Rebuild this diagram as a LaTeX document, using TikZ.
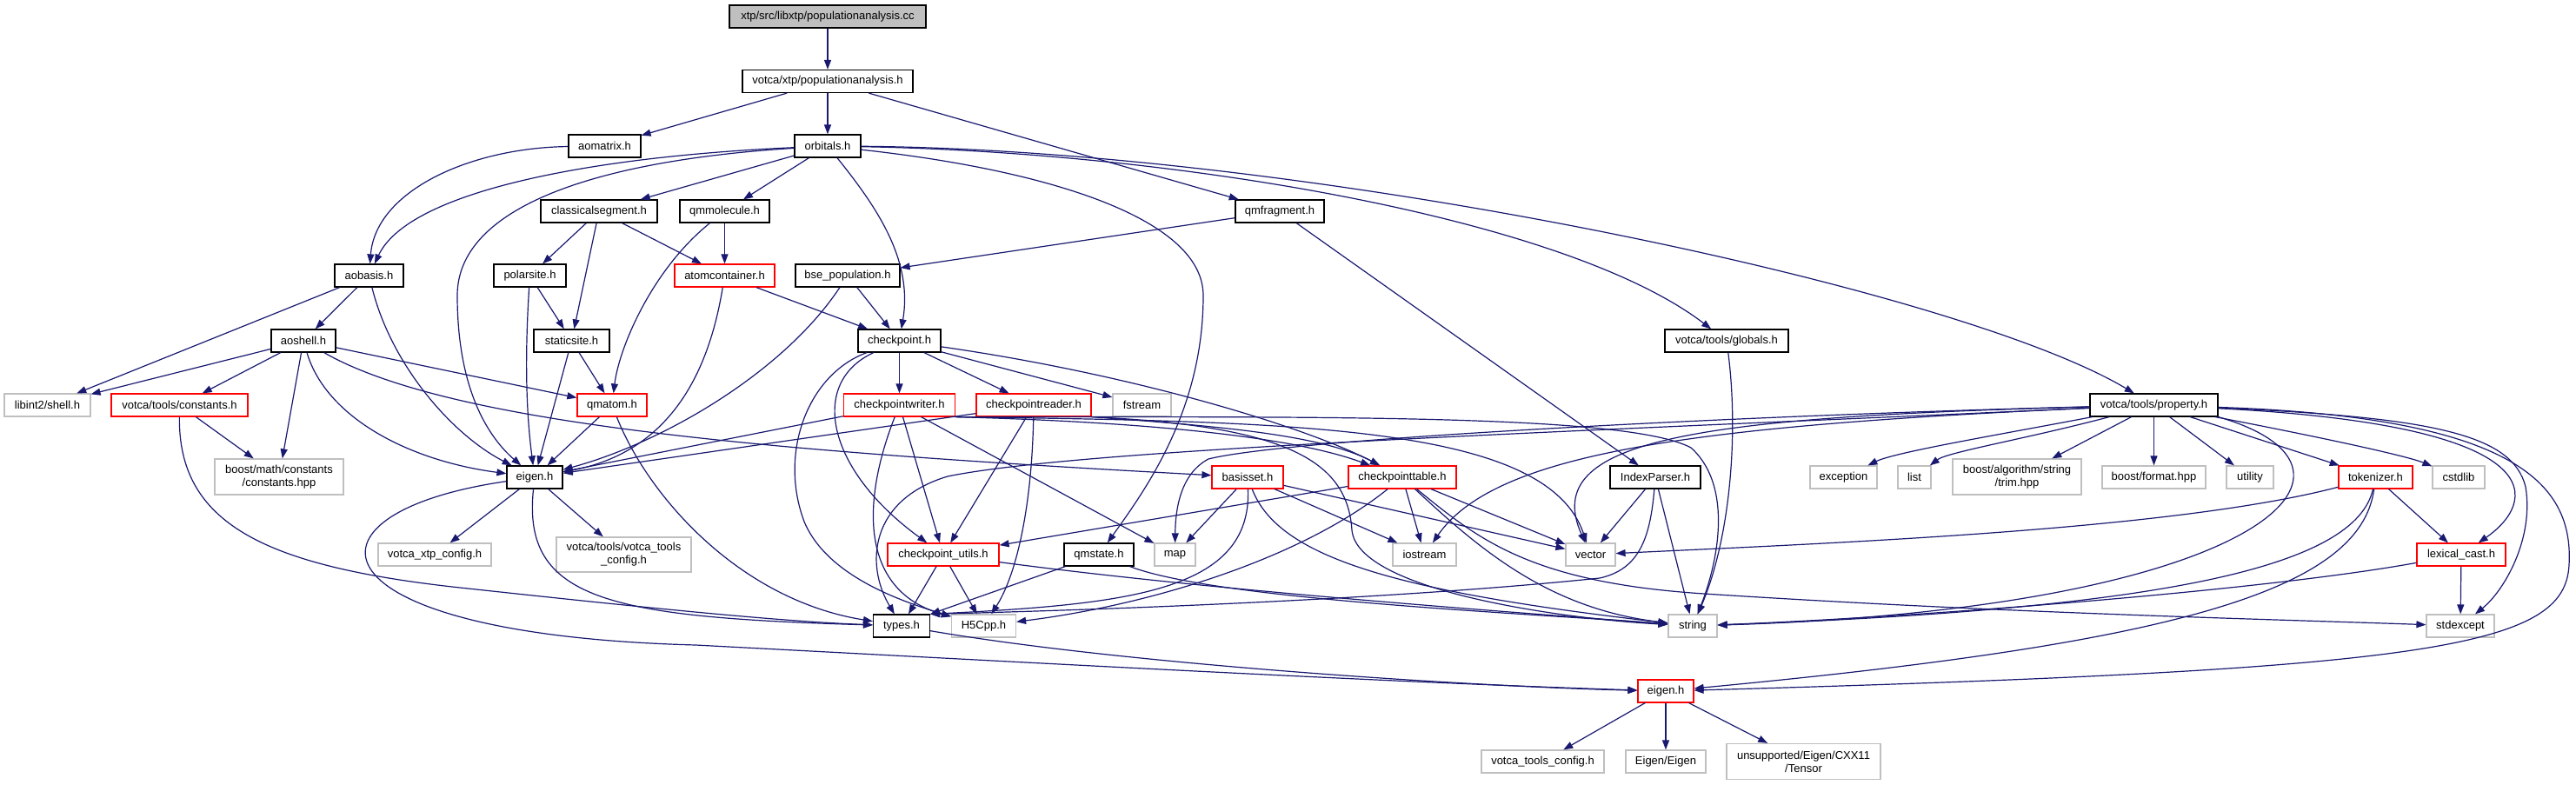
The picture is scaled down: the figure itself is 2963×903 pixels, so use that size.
\documentclass[tikz,border=0pt]{standalone}
\usepackage{fontspec}
\setmainfont{Liberation Sans}
\usetikzlibrary{arrows.meta}
\definecolor{edgec}{HTML}{191970}
\definecolor{grey75}{HTML}{BFBFBF}
\newcommand\fs{\fontsize{6.5}{7.6}\selectfont}
\begin{document}
\begin{tikzpicture}[x=0.5pt,y=-0.5pt,
  nb/.style={draw=black, line width=0.6pt, fill=white, text=black, inner sep=0pt, align=center, font=\fs, minimum height=13pt},
  nr/.style={nb, draw=red},
  ng/.style={nb, draw=grey75},
  tall/.style={minimum height=20.5pt},
  bw/.style={minimum width=#1*0.5pt},
  ed/.style={draw=edgec, line width=0.6pt, -{Triangle[length=5.5pt,width=4pt]}}]
\fill[white] (0,0) rectangle (2963,903);
\useasboundingbox (0,0) rectangle (2963,903);
% ---------- nodes ----------
\node[nb,bw=226,fill=grey75] (root) at (952,19) {xtp/src/libxtp/populationanalysis.cc};
\node[nb,bw=196] (pop) at (952,93.5) {votca/xtp/populationanalysis.h};
\node[nb,bw=83] (aomatrix) at (695.5,168) {aomatrix.h};
\node[nb,bw=76] (orbitals) at (952,168) {orbitals.h};
\node[nb,bw=134] (classseg) at (689,243) {classicalsegment.h};
\node[nb,bw=103] (qmmol) at (833.5,243) {qmmolecule.h};
\node[nb,bw=102] (qmfrag) at (1472,243) {qmfragment.h};
\node[nb,bw=79] (aobasis) at (424.5,317) {aobasis.h};
\node[nb,bw=83] (polarsite) at (609.5,317) {polarsite.h};
\node[nr,bw=115] (atomcont) at (833.5,317) {atomcontainer.h};
\node[nb,bw=120] (bse) at (975,317) {bse\_population.h};
\node[nb,bw=74] (aoshell) at (349,392) {aoshell.h};
\node[nb,bw=87] (staticsite) at (657.5,392) {staticsite.h};
\node[nb,bw=95] (checkpoint) at (1034.5,392) {checkpoint.h};
\node[nb,bw=142] (globals) at (1986,392) {votca/tools/globals.h};
\node[ng,bw=99] (libint) at (54.5,466) {libint2/shell.h};
\node[nr,bw=157] (constants) at (206.5,466) {votca/tools/constants.h};
\node[nr,bw=80] (qmatom) at (704,466) {qmatom.h};
\node[nr,bw=128] (cpwriter) at (1034.5,466) {checkpointwriter.h};
\node[nr,bw=132] (cpreader) at (1189,466) {checkpointreader.h};
\node[ng,bw=67] (fstream) at (1313.5,466) {fstream};
\node[nb,bw=147] (property) at (2477.5,466) {votca/tools/property.h};
\node[ng,bw=148,tall] (boostmath) at (321,548.5) {boost/math/constants\\/constants.hpp};
\node[nb,bw=64] (eigenx) at (615,549) {eigen.h};
\node[nr,bw=82] (basisset) at (1435,549) {basisset.h};
\node[nr,bw=124] (cptable) at (1613,549) {checkpointtable.h};
\node[nb,bw=104] (indexparser) at (1904,549) {IndexParser.h};
\node[ng,bw=77] (exception) at (2120.5,549) {exception};
\node[ng,bw=38] (list) at (2202,549) {list};
\node[ng,bw=148,tall] (boosttrim) at (2320,548.5) {boost/algorithm/string\\/trim.hpp};
\node[ng,bw=119] (boostformat) at (2477.5,549) {boost/format.hpp};
\node[ng,bw=54] (utility) at (2588,549) {utility};
\node[nr,bw=85] (tokenizer) at (2732.5,549) {tokenizer.h};
\node[ng,bw=60] (cstdlib) at (2828,549) {cstdlib};
\node[ng,bw=130] (xtpconfig) at (500,638) {votca\_xtp\_config.h};
\node[ng,bw=155,minimum height=20pt] (toolsconfig) at (717.5,638) {votca/tools/votca\_tools\\\_config.h};
\node[nr,bw=128] (cputils) at (1085,638) {checkpoint\_utils.h};
\node[nb,bw=80] (qmstate) at (1264,638) {qmstate.h};
\node[ng,bw=47] (map) at (1351.5,638) {map};
\node[ng,bw=73] (iostream) at (1638.5,638) {iostream};
\node[ng,bw=57] (vector) at (1829.5,638) {vector};
\node[nr,bw=102] (lexical) at (2831,638) {lexical\_cast.h};
\node[nb,bw=65] (types) at (1037,720) {types.h};
\node[ng,bw=74] (h5cpp) at (1131.5,720) {H5Cpp.h};
\node[ng,bw=56] (string) at (1947,720) {string};
\node[ng,bw=78] (stdexcept) at (2830,720) {stdexcept};
\node[nr,bw=64] (eigent) at (1916,795) {eigen.h};
\node[ng,bw=141] (toolscfg) at (1774.5,876) {votca\_tools\_config.h};
\node[ng,bw=92] (eigeneigen) at (1916,876) {Eigen/Eigen};
\node[ng,bw=177,tall] (tensor) at (2074.5,876) {unsupported/Eigen/CXX11\\/Tensor};
% ---------- edges ----------
\draw[ed] (root) -- (pop);
\draw[ed] (pop) -- (aomatrix);
\draw[ed] (pop) -- (orbitals);
\draw[ed] (pop) -- (qmfrag);
\draw[ed] (aomatrix) .. controls (540,170) and (432,220) .. (aobasis);
\draw[ed] (orbitals) .. controls (680,180) and (470,220) .. (aobasis);
\draw[ed] (orbitals) .. controls (680,185) and (526,240) .. (526,340) .. controls (526,460) and (570,510) .. (eigenx);
\draw[ed] (orbitals) -- (classseg);
\draw[ed] (orbitals) -- (qmmol);
\draw[ed] (orbitals) .. controls (1010,240) and (1050,300) .. (checkpoint);
\draw[ed] (orbitals) .. controls (1200,195) and (1384,250) .. (1384,340) .. controls (1384,470) and (1320,560) .. (qmstate);
\draw[ed] (orbitals) .. controls (1350,175) and (1800,250) .. (globals);
\draw[ed] (orbitals) .. controls (1500,172) and (2250,330) .. (property);
\draw[ed] (classseg) -- (polarsite);
\draw[ed] (classseg) -- (staticsite);
\draw[ed] (classseg) -- (atomcont);
\draw[ed] (qmmol) -- (atomcont);
\draw[ed] (qmmol) .. controls (750,310) and (712,400) .. (qmatom);
\draw[ed] (qmfrag) -- (bse);
\draw[ed] (qmfrag) -- (indexparser);
\draw[ed] (aobasis) -- (aoshell);
\draw[ed] (aobasis) -- (libint);
\draw[ed] (aobasis) .. controls (450,420) and (520,500) .. (eigenx);
\draw[ed] (polarsite) -- (staticsite);
\draw[ed] (polarsite) .. controls (603,420) and (606,480) .. (eigenx);
\draw[ed] (atomcont) -- (checkpoint);
\draw[ed] (atomcont) .. controls (815,430) and (770,520) .. (eigenx);
\draw[ed] (bse) -- (checkpoint);
\draw[ed] (bse) .. controls (900,430) and (760,510) .. (eigenx);
\draw[ed] (aoshell) -- (libint);
\draw[ed] (aoshell) -- (constants);
\draw[ed] (aoshell) -- (boostmath);
\draw[ed] (aoshell) .. controls (375,480) and (470,530) .. (eigenx);
\draw[ed] (aoshell) -- (qmatom);
\draw[ed] (aoshell) .. controls (520,490) and (900,520) .. (basisset);
\draw[ed] (staticsite) -- (eigenx);
\draw[ed] (staticsite) -- (qmatom);
\draw[ed] (checkpoint) -- (cpwriter);
\draw[ed] (checkpoint) -- (cpreader);
\draw[ed] (checkpoint) -- (fstream);
\draw[ed] (checkpoint) .. controls (1300,430) and (1500,490) .. (cptable);
\draw[ed] (checkpoint) .. controls (930,440) and (950,540) .. (cputils);
\draw[ed] (checkpoint) .. controls (930,430) and (895,520) .. (925,600) .. controls (950,660) and (1030,690) .. (h5cpp);
\draw[ed] (cpwriter) -- (eigenx);
\draw[ed] (cpwriter) -- (cputils);
\draw[ed] (cpwriter) -- (map);
\draw[ed] (cpwriter) .. controls (990,580) and (990,680) .. (h5cpp);
\draw[ed] (cpwriter.south east) .. controls (1300,485) and (1480,500) .. (cptable);
\draw[ed] (cpwriter.south east) .. controls (1500,485) and (1780,490) .. (vector);
\draw[ed] (cpwriter.south east) .. controls (1500,480) and (1870,475) .. (1945,515) .. controls (1995,560) and (1975,650) .. (string);
\draw[ed] (cpreader) -- (eigenx);
\draw[ed] (cpreader) -- (cputils);
\draw[ed] (cpreader) .. controls (1187,580) and (1170,660) .. (h5cpp);
\draw[ed] (cpreader.south east) .. controls (1400,490) and (1520,500) .. (cptable);
\draw[ed] (cpreader.south east) .. controls (1480,490) and (1550,530) .. (1555,610) .. controls (1562,680) and (1800,712) .. (string);
\draw[ed] (cptable) -- (cputils);
\draw[ed] (cptable) .. controls (1500,640) and (1330,695) .. (h5cpp);
\draw[ed] (cptable) -- (iostream);
\draw[ed] (cptable) -- (vector);
\draw[ed] (cptable) .. controls (1700,630) and (1780,700) .. (string);
\draw[ed] (cptable) .. controls (1700,620) and (1760,670) .. (1960,683) .. controls (2300,705) and (2600,712) .. (stdexcept);
\draw[ed] (basisset) -- (map);
\draw[ed] (basisset) .. controls (1440,680) and (1300,695) .. (types.north east);
\draw[ed] (basisset) -- (iostream);
\draw[ed] (basisset) -- (vector);
\draw[ed] (basisset) .. controls (1470,640) and (1600,680) .. (string);
\draw[ed] (cputils) -- (types);
\draw[ed] (cputils) -- (h5cpp);
\draw[ed] (cputils) .. controls (1400,680) and (1750,705) .. (string);
\draw[ed] (qmstate) -- (types.north east);
\draw[ed] (qmstate) .. controls (1400,690) and (1750,705) .. (string);
\draw[ed] (indexparser) -- (vector);
\draw[ed] (indexparser) -- (string);
\draw[ed] (indexparser) .. controls (1898,620) and (1885,655) .. (1840,665) .. controls (1600,690) and (1250,702) .. (types.north east);
\draw[ed] (globals) .. controls (2000,500) and (1990,620) .. (string);
% property
\draw[ed] (property) .. controls (2300,500) and (2180,520) .. (exception);
\draw[ed] (property) .. controls (2330,505) and (2240,520) .. (list);
\draw[ed] (property) -- (boosttrim);
\draw[ed] (property) -- (boostformat);
\draw[ed] (property) -- (utility);
\draw[ed] (property) -- (tokenizer);
\draw[ed] (property) .. controls (2680,505) and (2770,525) .. (cstdlib);
\draw[ed] (property) .. controls (2950,490) and (2915,580) .. (lexical);
\draw[ed] (property) .. controls (2800,480) and (2890,500) .. (2905,560) .. controls (2915,620) and (2880,680) .. (stdexcept);
\draw[ed] (property) .. controls (2900,480) and (2960,560) .. (2955,650) .. controls (2950,745) and (2800,770) .. (eigent);
\draw[ed] (property.south east) .. controls (2760,540) and (2600,700) .. (string);
\draw[ed] (property) .. controls (1950,490) and (1720,520) .. (iostream);
\draw[ed] (property) .. controls (2000,478) and (1480,505) .. (1390,528) .. controls (1358,545) and (1352,585) .. (map);
\draw[ed] (property) .. controls (1950,480) and (1770,505) .. (vector);
\draw[ed] (property) .. controls (1850,495) and (1250,515) .. (1090,548) .. controls (1000,575) and (995,650) .. (types);
% tokenizer, lexical_cast
\draw[ed] (tokenizer) .. controls (2500,610) and (2100,625) .. (vector);
\draw[ed] (tokenizer) -- (lexical);
\draw[ed] (tokenizer) .. controls (2710,650) and (2500,700) .. (string);
\draw[ed] (tokenizer) .. controls (2715,680) and (2500,740) .. (eigent);
\draw[ed] (lexical) .. controls (2600,680) and (2200,710) .. (string);
\draw[ed] (lexical) -- (stdexcept);
% eigen (tools)
\draw[ed] (eigent) -- (toolscfg);
\draw[ed] (eigent) -- (eigeneigen);
\draw[ed] (eigent) -- (tensor);
% eigen (xtp)
\draw[ed] (eigenx) -- (xtpconfig);
\draw[ed] (eigenx) -- (toolsconfig);
\draw[ed] (eigenx) .. controls (600,690) and (700,710) .. (types);
\draw[ed] (eigenx) .. controls (330,590) and (350,730) .. (800,742) .. controls (1200,763) and (1600,785) .. (eigent);
\draw[ed] (types) .. controls (1300,765) and (1700,790) .. (eigent);
\draw[ed] (constants) -- (boostmath);
\draw[ed] (constants) .. controls (205,600) and (300,650) .. (520,675) .. controls (750,700) and (900,715) .. (types);
\draw[ed] (qmatom) -- (eigenx);
\draw[ed] (qmatom) .. controls (745,570) and (850,690) .. (types);
\end{tikzpicture}
\end{document}
